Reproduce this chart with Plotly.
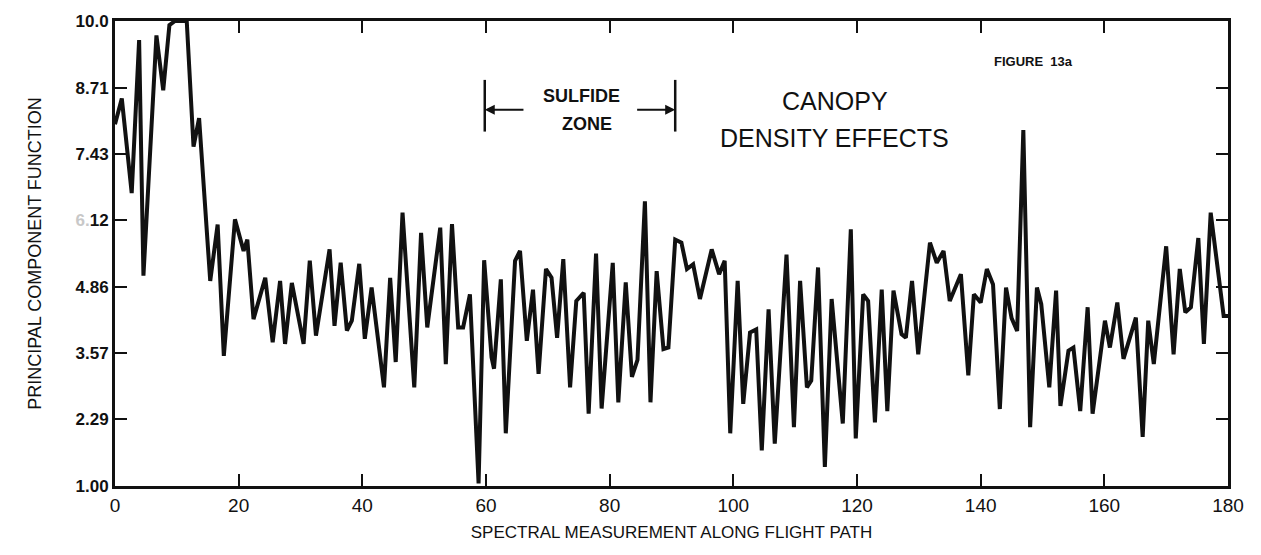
import plotly.graph_objects as go

# ---- data ----
measurement = [
    0.0, 1.1, 2.7, 3.9, 4.6, 6.7, 7.8, 8.8, 9.7, 11.6, 12.7, 13.6, 15.4, 16.6, 17.6, 19.4,
    20.8, 21.4, 22.4, 24.3, 25.5, 26.7, 27.5, 28.6, 30.5, 31.5, 32.5, 34.7, 35.5, 36.5, 37.5,
    38.3, 39.5, 40.4, 41.5, 43.5, 44.5, 45.4, 46.5, 48.4, 49.5, 50.5, 52.6, 53.5, 54.5, 55.5,
    56.3, 57.4, 58.8, 59.7, 60.9, 61.3, 62.4, 63.2, 64.7, 65.5, 66.6, 67.6, 68.5, 69.7, 70.6,
    71.5, 72.5, 73.6, 74.6, 75.8, 76.6, 77.8, 78.7, 80.5, 81.4, 82.6, 83.6, 84.5, 85.7, 86.6,
    87.6, 88.7, 89.5, 90.6, 91.6, 92.5, 93.5, 94.6, 96.5, 97.7, 98.6, 99.5, 100.7, 101.6,
    102.7, 103.7, 104.6, 105.7, 106.7, 108.6, 109.8, 110.8, 111.9, 112.6, 113.7, 114.8, 115.9,
    117.7, 119.0, 119.8, 121.0, 121.8, 122.9, 124.0, 124.9, 125.9, 127.2, 127.9, 128.9, 129.9,
    131.8, 132.9, 134.0, 135.0, 136.8, 138.0, 138.9, 140.0, 141.0, 142.0, 143.1, 144.1, 145.0,
    145.9, 146.9, 148.0, 149.1, 149.8, 151.1, 152.2, 152.9, 154.2, 155.0, 156.1, 157.3, 158.1,
    160.1, 160.9, 162.1, 163.1, 165.1, 166.2, 167.1, 168.0, 170.0, 171.2, 172.2, 173.1, 174.0,
    175.2, 176.1, 177.2, 179.3, 180.0,
]
pc_function = [
    8.00, 8.50, 6.67, 9.63, 5.07, 9.72, 8.66, 9.92, 10.0, 10.0, 7.57, 8.12, 4.97, 6.06, 3.52, 6.16,
    5.55, 5.77, 4.23, 5.03, 3.78, 4.97, 3.75, 4.93, 3.75, 5.36, 3.91, 5.58, 4.10, 5.32, 4.01,
    4.20, 5.30, 3.85, 4.84, 2.91, 5.03, 3.40, 6.29, 2.91, 5.90, 4.07, 6.00, 3.36, 6.07, 4.07,
    4.07, 4.71, 1.05, 5.37, 3.49, 3.27, 5.00, 2.02, 5.36, 5.55, 3.81, 4.80, 3.17, 5.20, 5.03,
    3.87, 5.39, 2.91, 4.58, 4.74, 2.40, 5.50, 2.50, 5.32, 2.62, 4.94, 3.11, 3.44, 6.51, 2.62,
    5.16, 3.65, 3.68, 5.77, 5.71, 5.20, 5.29, 4.62, 5.58, 5.10, 5.36, 2.02, 4.97, 2.59,
    3.97, 4.03, 1.69, 4.42, 1.82, 5.48, 2.14, 4.97, 2.91, 3.04, 5.23, 1.37, 4.62,
    2.21, 5.97, 1.92, 4.71, 4.58, 2.23, 4.80, 2.45, 4.78, 3.94, 3.87, 4.97, 3.55,
    5.71, 5.32, 5.55, 4.58, 5.10, 3.14, 4.71, 4.55, 5.20, 4.90, 2.49, 4.84, 4.25,
    4.00, 7.89, 2.14, 4.84, 4.52, 2.91, 4.78, 2.55, 3.62, 3.68, 2.45, 4.46, 2.40,
    4.20, 3.68, 4.55, 3.46, 4.26, 1.95, 4.20, 3.36, 5.64, 3.55, 5.20, 4.36, 4.46,
    5.80, 3.75, 6.29, 4.29, 4.29,
]
x_ticks = [0, 20, 40, 60, 80, 100, 120, 140, 160, 180]
y_ticks = [1.00, 2.29, 3.57, 4.86, 6.14, 7.43, 8.71, 10.0]
y_tick_text = ["1.00", "2.29", "3.57", "4.86", "<span style='color:#c8c8c8'>6.</span>12",
               "7.43", "8.71", "10.0"]
zone_start, zone_end = 59.8, 90.6

FONT = "Liberation Sans"
INK = "#111111"

fig = go.Figure()
fig.add_trace(go.Scatter(
    x=measurement, y=pc_function, mode="lines",
    line=dict(color=INK, width=4), hoverinfo="skip", showlegend=False,
))

# Sulfide zone bracket
for xb in (zone_start, zone_end):
    fig.add_shape(type="line", xref="x", yref="y", x0=xb, x1=xb, y0=7.86, y1=8.86,
                  line=dict(color=INK, width=2.5))
fig.add_annotation(x=zone_start, y=8.28, ax=66.3, ay=8.28, xref="x", yref="y",
                   axref="x", ayref="y", text="", showarrow=True, arrowhead=2,
                   arrowsize=1, arrowwidth=2, arrowcolor=INK)
fig.add_annotation(x=zone_end, y=8.28, ax=84.2, ay=8.28, xref="x", yref="y",
                   axref="x", ayref="y", text="", showarrow=True, arrowhead=2,
                   arrowsize=1, arrowwidth=2, arrowcolor=INK)
fig.add_annotation(x=75.4, y=8.55, xref="x", yref="y", showarrow=False,
                   text="SULFIDE", font=dict(family=FONT, size=18, color=INK, weight="bold"))
fig.add_annotation(x=76.3, y=8.01, xref="x", yref="y", showarrow=False,
                   text="ZONE", font=dict(family=FONT, size=18, color=INK, weight="bold"))
fig.add_annotation(x=116.4, y=8.46, xref="x", yref="y", showarrow=False,
                   text="CANOPY", font=dict(family=FONT, size=25, color=INK))
fig.add_annotation(x=116.4, y=7.73, xref="x", yref="y", showarrow=False,
                   text="DENSITY EFFECTS", font=dict(family=FONT, size=25, color=INK))
fig.add_annotation(x=148.5, y=9.21, xref="x", yref="y", showarrow=False,
                   text="FIGURE  13a", font=dict(family=FONT, size=13, color=INK,
                                                 weight="bold"))

fig.update_layout(
    width=1261, height=555,
    margin=dict(l=115, r=33, t=19, b=69),
    paper_bgcolor="white", plot_bgcolor="white",
    font=dict(family=FONT, color=INK),
    xaxis=dict(
        range=[0, 180], tickvals=x_ticks, ticks="inside", ticklen=12, tickwidth=2,
        tickcolor=INK, showline=True, linewidth=3, linecolor=INK,
        mirror="ticks", showgrid=False, zeroline=False,
        tickfont=dict(family=FONT, size=19, color=INK),
        title=dict(text="SPECTRAL MEASUREMENT ALONG FLIGHT PATH",
                   font=dict(family=FONT, size=17, color=INK), standoff=12),
    ),
    yaxis=dict(
        range=[1, 10], tickvals=y_ticks, ticktext=y_tick_text, ticks="inside", ticklen=12,
        tickwidth=2, tickcolor=INK, showline=True, linewidth=3, linecolor=INK,
        mirror="ticks", showgrid=False, zeroline=False,
        tickfont=dict(family=FONT, size=17, color=INK, weight="bold"),
        title=dict(text="PRINCIPAL COMPONENT FUNCTION",
                   font=dict(family=FONT, size=18, color=INK), standoff=30),
    ),
)

fig.write_html("out.html")
